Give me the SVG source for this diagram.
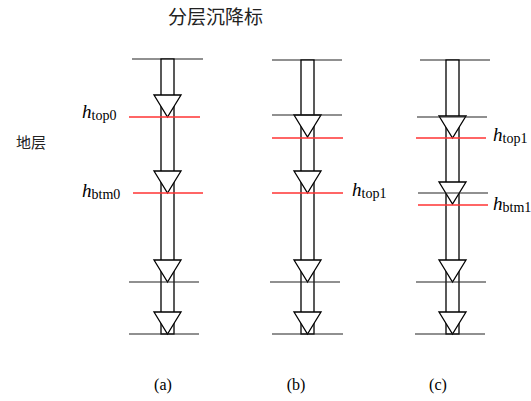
<svg xmlns="http://www.w3.org/2000/svg" width="531" height="401" viewBox="0 0 531 401">
<style>
.bl{stroke:#222;stroke-width:1.2;fill:none}
.rd{stroke:#ff3333;stroke-width:1.5;fill:none}
.sh{fill:#fff;stroke:#000;stroke-width:1.3}
.tr{fill:#fff;stroke:#000;stroke-width:1.3;stroke-linejoin:miter}
.cn{font-family:"Noto Sans CJK SC","Noto Sans CJK JP",sans-serif;fill:#222}
.h{font-family:"Liberation Serif",serif;font-style:italic;font-size:19px;fill:#000}
.sub{font-family:"Liberation Serif",serif;font-style:normal;font-size:14px}
.lb{font-family:"Liberation Serif",serif;font-size:16px;fill:#000}
</style>
<defs>
<polygon id="tri" points="-13.5,0 13.5,0 0,22"/>
</defs>
<rect width="531" height="401" fill="#fff"/>
<text class="cn" x="168" y="24" font-size="19">分层沉降标</text>
<text class="cn" x="16" y="148" font-size="15">地层</text>

<g id="col-a">
<line class="bl" x1="132" y1="59" x2="203" y2="59"/>
<rect class="sh" x="161" y="59" width="13" height="275"/>
<use href="#tri" class="tr" x="167.5" y="95"/>
<use href="#tri" class="tr" x="167.5" y="171"/>
<use href="#tri" class="tr" x="167.5" y="260"/>
<use href="#tri" class="tr" x="167.5" y="312"/>
<line class="rd" x1="129" y1="117" x2="200" y2="117"/>
<line class="rd" x1="133" y1="193" x2="203" y2="193"/>
<line class="bl" x1="129" y1="282" x2="199" y2="282"/>
<line class="bl" x1="129" y1="334" x2="199" y2="334"/>
<text class="h" x="82" y="118">h<tspan class="sub" dy="2">top0</tspan></text>
<text class="h" x="82" y="197">h<tspan class="sub" dy="2">btm0</tspan></text>
<text class="lb" x="163" y="390" text-anchor="middle">(a)</text>
</g>

<g id="col-b">
<line class="bl" x1="272" y1="60" x2="342" y2="60"/>
<rect class="sh" x="301" y="60" width="13" height="274"/>
<use href="#tri" class="tr" x="307.5" y="115"/>
<use href="#tri" class="tr" x="307.5" y="171"/>
<use href="#tri" class="tr" x="307.5" y="260"/>
<use href="#tri" class="tr" x="307.5" y="312"/>
<line class="bl" x1="272" y1="115" x2="342" y2="115"/>
<line class="rd" x1="272" y1="138" x2="343" y2="138"/>
<line class="rd" x1="272" y1="193" x2="343" y2="193"/>
<line class="bl" x1="270" y1="282" x2="340" y2="282"/>
<line class="bl" x1="272" y1="334" x2="343" y2="334"/>
<text class="h" x="352" y="196">h<tspan class="sub" dy="2">top1</tspan></text>
<text class="lb" x="296" y="390" text-anchor="middle">(b)</text>
</g>

<g id="col-c">
<line class="bl" x1="420" y1="60" x2="490" y2="60"/>
<rect class="sh" x="446" y="60" width="13" height="274"/>
<use href="#tri" class="tr" x="452.5" y="116"/>
<use href="#tri" class="tr" x="452.5" y="182"/>
<use href="#tri" class="tr" x="452.5" y="260"/>
<use href="#tri" class="tr" x="452.5" y="312"/>
<line class="bl" x1="417" y1="117" x2="487" y2="117"/>
<line class="rd" x1="416" y1="138" x2="486" y2="138"/>
<line class="bl" x1="418" y1="193" x2="488" y2="193"/>
<line class="rd" x1="418" y1="205" x2="488" y2="205"/>
<line class="bl" x1="416" y1="282" x2="486" y2="282"/>
<line class="bl" x1="415" y1="334" x2="485" y2="334"/>
<text class="h" x="493" y="141">h<tspan class="sub" dy="2">top1</tspan></text>
<text class="h" x="493" y="210">h<tspan class="sub" dy="2">btm1</tspan></text>
<text class="lb" x="438" y="390" text-anchor="middle">(c)</text>
</g>
<g id="connectors"/>
</svg>
